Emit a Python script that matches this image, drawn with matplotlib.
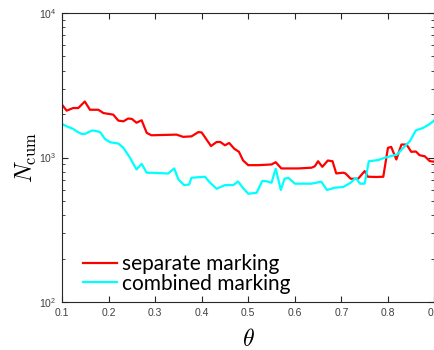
import numpy as np
import matplotlib.pyplot as plt
from matplotlib.ticker import LogLocator, NullFormatter, FixedLocator

# separate marking (red)
theta_sep = [0.100, 0.110, 0.124, 0.135, 0.149, 0.160, 0.178, 0.189, 0.210, 0.221,
             0.232, 0.242, 0.250, 0.260, 0.271, 0.282, 0.292, 0.346, 0.360, 0.378,
             0.393, 0.400, 0.420, 0.432, 0.440, 0.450, 0.459, 0.470, 0.480, 0.489,
             0.500, 0.521, 0.550, 0.559, 0.571, 0.607, 0.636, 0.643, 0.650, 0.659,
             0.671, 0.681, 0.689, 0.704, 0.709, 0.720, 0.736, 0.750, 0.757, 0.775,
             0.790, 0.800, 0.807, 0.818, 0.829, 0.840, 0.850, 0.860, 0.868, 0.879,
             0.890, 0.900]
n_sep = [2320, 2110, 2200, 2200, 2440, 2140, 2140, 2030, 1980, 1800,
         1780, 1860, 1850, 1740, 1810, 1480, 1425, 1440, 1390, 1400,
         1500, 1490, 1200, 1280, 1280, 1215, 1260, 1150, 1095, 953,
         885, 885, 895, 928, 840, 840, 850, 870, 942, 862,
         953, 942, 776, 785, 775, 713, 713, 805, 736, 733,
         736, 1166, 1184, 969, 1229, 1229, 1095, 1100, 1037, 1020,
         943, 935]

# combined marking (cyan)
theta_comb = [0.100, 0.110, 0.124, 0.131, 0.142, 0.149, 0.164, 0.172, 0.182, 0.192,
              0.203, 0.221, 0.232, 0.246, 0.260, 0.271, 0.282, 0.292, 0.328, 0.341,
              0.350, 0.362, 0.373, 0.378, 0.407, 0.418, 0.432, 0.450, 0.468, 0.478,
              0.489, 0.500, 0.518, 0.530, 0.537, 0.550, 0.559, 0.570, 0.578, 0.586,
              0.600, 0.636, 0.657, 0.669, 0.686, 0.704, 0.720, 0.731, 0.740, 0.750,
              0.759, 0.779, 0.793, 0.811, 0.820, 0.831, 0.847, 0.860, 0.875, 0.888,
              0.900]
n_comb = [1706, 1643, 1578, 1519, 1456, 1456, 1535, 1530, 1496, 1346,
          1276, 1249, 1166, 995, 826, 904, 784, 784, 775, 840,
          705, 644, 650, 724, 736, 669, 608, 644, 644, 683,
          614, 561, 570, 687, 687, 669, 836, 596, 713, 724,
          659, 659, 680, 596, 618, 625, 669, 724, 659, 659,
          942, 960, 995, 1032, 1050, 1150, 1296, 1541, 1600, 1690,
          1810]

x_ticks = [0.1, 0.2, 0.3, 0.4, 0.5, 0.6, 0.7, 0.8, 0.9]

fig = plt.figure(figsize=(4.35, 3.5), dpi=100)
ax = fig.add_axes([62 / 435, 48 / 350, 372.5 / 435, 289 / 350])

ax.plot(theta_sep, n_sep, color='#ff0000', lw=1.6, label='separate marking')
ax.plot(theta_comb, n_comb, color='#00ffff', lw=1.6, label='combined marking')

ax.set_yscale('log')
ax.set_xlim(0.1, 0.9)
ax.set_ylim(100, 10000)
ax.xaxis.set_major_locator(FixedLocator(x_ticks))
ax.set_xticklabels([f'{t:.1f}' for t in x_ticks])
ax.yaxis.set_major_locator(LogLocator(base=10, numticks=5))
ax.yaxis.set_minor_locator(LogLocator(base=10, subs=np.arange(2, 10), numticks=20))
ax.yaxis.set_minor_formatter(NullFormatter())

edge = '#262626'
for s in ax.spines.values():
    s.set_color(edge)
    s.set_linewidth(0.8)
ax.tick_params(which='both', direction='in', top=True, right=True,
               colors=edge, labelsize=7.5, labelcolor='#404040')
ax.tick_params(which='major', length=4, pad=4)
ax.tick_params(which='minor', length=2.5)
for lbl in ax.get_xticklabels() + ax.get_yticklabels():
    lbl.set_fontfamily('Liberation Sans')

ax.set_ylabel(r'$N_{\rm cum}$', fontsize=17, math_fontfamily='cm', labelpad=0)
ax.set_xlabel(r'$\theta$', fontsize=17, math_fontfamily='cm', labelpad=7)

leg = ax.legend(loc='lower left', frameon=False, prop={'family': 'Lato', 'size': 15},
                handlelength=1.6, handletextpad=0.25, labelspacing=-0.02,
                borderaxespad=0.0, bbox_to_anchor=(0.035, 0.0))

fig.savefig('out.png', dpi=100)
